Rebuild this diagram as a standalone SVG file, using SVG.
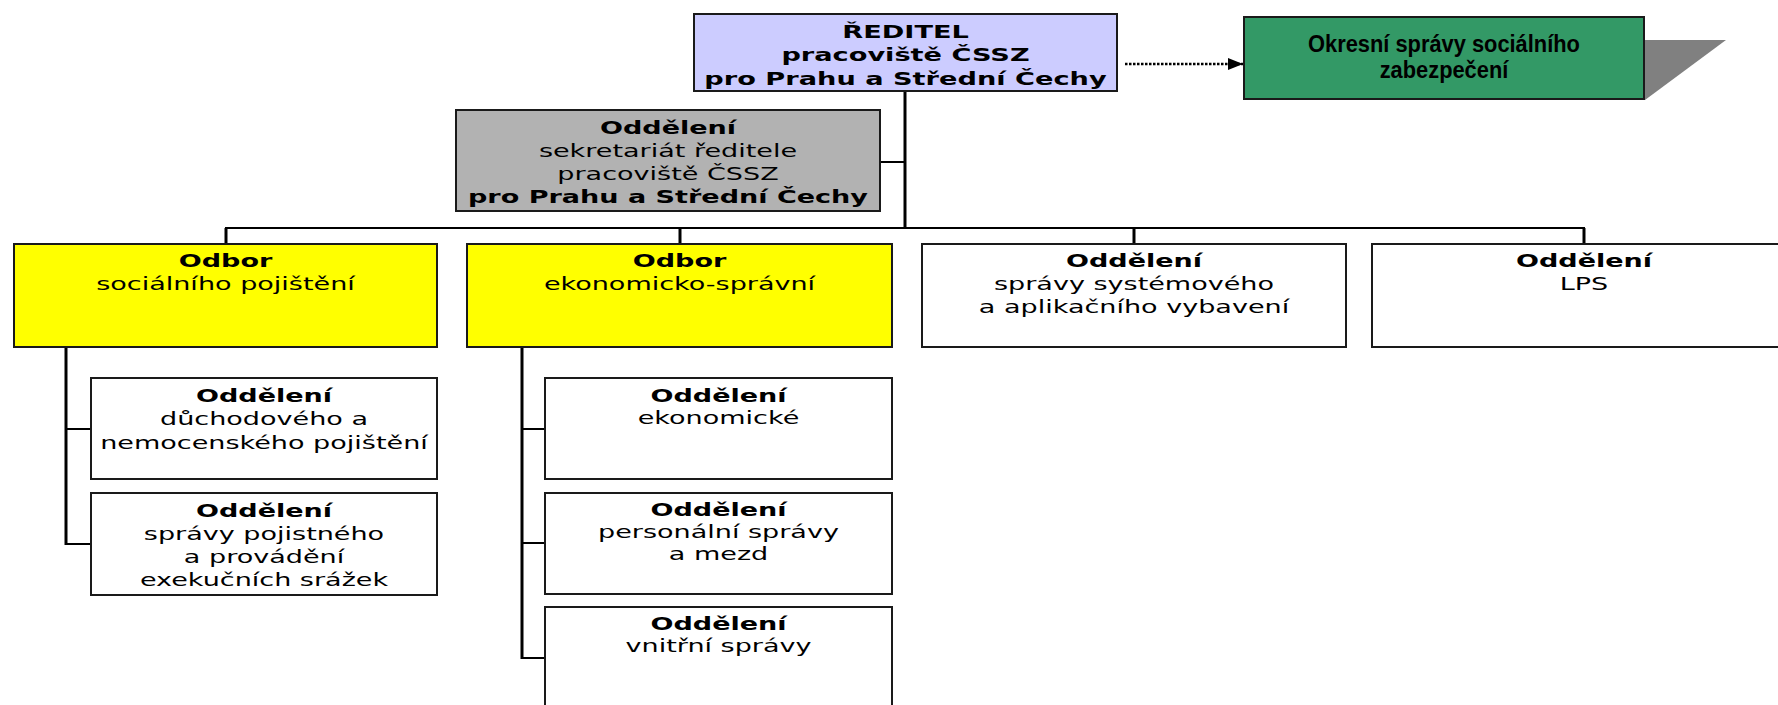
<svg xmlns="http://www.w3.org/2000/svg" width="1778" height="705" viewBox="0 0 1778 705">
<style>
.box{stroke:#1a1a1a;stroke-width:2}
.dir{fill:#ccccff}
.sec{fill:#b2b2b2}
.yel{fill:#ffff00}
.wht{fill:#ffffff}
.grn{fill:#339966}
.t{font-family:"DejaVu Sans",Verdana,sans-serif;font-size:17.5px;fill:#000;text-anchor:middle}
.td{font-size:18.5px}
.b{font-weight:bold}
.g{font-family:"Liberation Sans",Arial,sans-serif;font-size:24px;font-weight:bold;fill:#000;text-anchor:middle}
.c{stroke:#000;fill:none}
.w3{stroke-width:3}
.w2{stroke-width:2}
.dot{stroke:#000;stroke-width:2.5;stroke-dasharray:2.5 1.5;fill:none}
</style>
<defs>
<marker id="arr" markerWidth="16" markerHeight="14" refX="15" refY="6" orient="auto" markerUnits="userSpaceOnUse">
<path d="M0,0 L15,6 L0,12 Z" fill="#000"/>
</marker>
</defs>
<rect width="1778" height="705" fill="#fff"/>

<g id="connectors">
<line class="c w3" x1="905" y1="91" x2="905" y2="229"/>
<line class="c w2" x1="880" y1="162" x2="905" y2="162"/>
<line class="c w2" x1="225" y1="228" x2="1585" y2="228"/>
<line class="c w3" x1="226" y1="228" x2="226" y2="244"/>
<line class="c w3" x1="680" y1="228" x2="680" y2="244"/>
<line class="c w3" x1="1134" y1="228" x2="1134" y2="244"/>
<line class="c w3" x1="1584" y1="228" x2="1584" y2="244"/>
<line class="c w3" x1="66" y1="347" x2="66" y2="545"/>
<line class="c w2" x1="66" y1="429" x2="91" y2="429"/>
<line class="c w2" x1="66" y1="544" x2="91" y2="544"/>
<line class="c w3" x1="522" y1="347" x2="522" y2="659"/>
<line class="c w2" x1="522" y1="429" x2="545" y2="429"/>
<line class="c w2" x1="522" y1="543" x2="545" y2="543"/>
<line class="c w2" x1="522" y1="658" x2="545" y2="658"/>
<line class="dot" x1="1125" y1="64" x2="1243" y2="64" marker-end="url(#arr)"/>
</g>

<g id="node-reditel">
<rect class="box dir" x="694" y="14" width="423" height="77"/>
<text class="t td b" transform="translate(905.5,38) scale(1.47,1)"><tspan x="0" y="0">ŘEDITEL</tspan><tspan x="0" y="23.5">pracoviště ČSSZ</tspan><tspan x="0" y="47">pro Prahu a Střední Čechy</tspan></text>
</g>

<g id="node-okresni">
<polygon points="1644,40 1726,40 1645,100" fill="#808080"/>
<rect class="box grn" x="1244" y="17" width="400" height="82"/>
<text class="g" transform="translate(1444,0) scale(0.91,1)"><tspan x="0" y="52">Okresní správy sociálního</tspan><tspan x="0" y="78">zabezpečení</tspan></text>
</g>

<g id="node-sekretariat">
<rect class="box sec" x="456" y="110" width="424" height="101"/>
<text class="t" transform="translate(668,134) scale(1.545,1)"><tspan x="0" y="0" class="b">Oddělení</tspan><tspan x="0" y="23">sekretariát ředitele</tspan><tspan x="0" y="46">pracoviště ČSSZ</tspan><tspan x="0" y="69" class="b">pro Prahu a Střední Čechy</tspan></text>
</g>

<g id="node-odbor-soc">
<rect class="box yel" x="14" y="244" width="423" height="103"/>
<text class="t" transform="translate(225.5,267) scale(1.545,1)"><tspan x="0" y="0" class="b">Odbor</tspan><tspan x="0" y="23">sociálního pojištění</tspan></text>
</g>

<g id="node-odbor-eko">
<rect class="box yel" x="467" y="244" width="425" height="103"/>
<text class="t" transform="translate(679.5,267) scale(1.545,1)"><tspan x="0" y="0" class="b">Odbor</tspan><tspan x="0" y="23">ekonomicko-správní</tspan></text>
</g>

<g id="node-odd-sys">
<rect class="box wht" x="922" y="244" width="424" height="103"/>
<text class="t" transform="translate(1134,267) scale(1.545,1)"><tspan x="0" y="0" class="b">Oddělení</tspan><tspan x="0" y="23">správy systémového</tspan><tspan x="0" y="46">a aplikačního vybavení</tspan></text>
</g>

<g id="node-odd-lps">
<rect class="box wht" x="1372" y="244" width="424" height="103"/>
<text class="t" transform="translate(1584,267) scale(1.545,1)"><tspan x="0" y="0" class="b">Oddělení</tspan><tspan x="0" y="23">LPS</tspan></text>
</g>

<g id="node-odd-duch">
<rect class="box wht" x="91" y="378" width="346" height="101"/>
<text class="t" transform="translate(264,402) scale(1.545,1)"><tspan x="0" y="0" class="b">Oddělení</tspan><tspan x="0" y="23.5">důchodového a</tspan><tspan x="0" y="47">nemocenského pojištění</tspan></text>
</g>

<g id="node-odd-pojist">
<rect class="box wht" x="91" y="493" width="346" height="102"/>
<text class="t" transform="translate(264,517) scale(1.545,1)"><tspan x="0" y="0" class="b">Oddělení</tspan><tspan x="0" y="23">správy pojistného</tspan><tspan x="0" y="46">a provádění</tspan><tspan x="0" y="69">exekučních srážek</tspan></text>
</g>

<g id="node-odd-eko">
<rect class="box wht" x="545" y="378" width="347" height="101"/>
<text class="t" transform="translate(718.5,402) scale(1.545,1)"><tspan x="0" y="0" class="b">Oddělení</tspan><tspan x="0" y="22">ekonomické</tspan></text>
</g>

<g id="node-odd-pers">
<rect class="box wht" x="545" y="493" width="347" height="101"/>
<text class="t" transform="translate(718.5,516) scale(1.545,1)"><tspan x="0" y="0" class="b">Oddělení</tspan><tspan x="0" y="22">personální správy</tspan><tspan x="0" y="44">a mezd</tspan></text>
</g>

<g id="node-odd-vnitr">
<rect class="box wht" x="545" y="607" width="347" height="102"/>
<text class="t" transform="translate(718.5,630) scale(1.545,1)"><tspan x="0" y="0" class="b">Oddělení</tspan><tspan x="0" y="22">vnitřní správy</tspan></text>
</g>
</svg>
